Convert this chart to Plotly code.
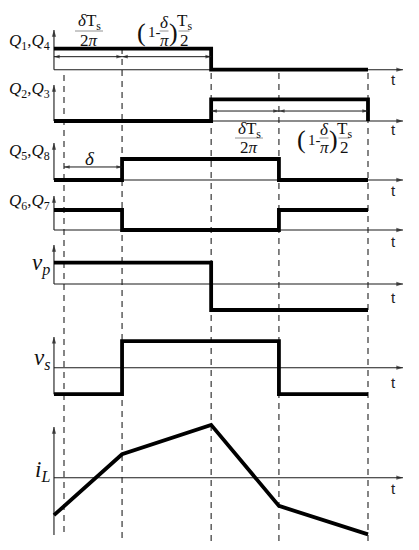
import plotly.graph_objects as go

W, H = 419, 550

# ---------------- data (time in units of Ts) ----------------
T_START = -0.033
T_DELTA = 0.191
T_HALF = 0.484
T_3 = 0.707
T_END = 1.0
T_AXIS_END = 1.115

time_q14 = [T_START, T_HALF, T_HALF, T_END]
q14 = [1, 1, 0, 0]
time_q23 = [T_START, T_HALF, T_HALF, T_END, T_END]
q23 = [0, 0, 1, 1, 0]
time_q58 = [T_START, T_DELTA, T_DELTA, T_3, T_3, T_END]
q58 = [0, 0, 1, 1, 0, 0]
time_q67 = [T_START, T_DELTA, T_DELTA, T_3, T_3, T_END]
q67 = [1, 1, 0, 0, 1, 1]
time_vp = [T_START, T_HALF, T_HALF, T_END]
vp = [1, 1, -1.22, -1.22]
time_vs = [T_START, T_DELTA, T_DELTA, T_3, T_3, T_END]
vs = [-1, -1, 1, 1, -1, -1]
time_il = [T_START, T_DELTA, T_HALF, T_3, T_END]
il = [-1.25, 0.78, 1.76, -0.94, -1.89]

dash_times = [0.0, T_DELTA, T_HALF, T_3, T_END]

labels = ["<i>Q</i><sub>1</sub>,<i>Q</i><sub>4</sub>",
          "<i>Q</i><sub>2</sub>,<i>Q</i><sub>3</sub>",
          "<i>Q</i><sub>5</sub>,<i>Q</i><sub>8</sub>",
          "<i>Q</i><sub>6</sub>,<i>Q</i><sub>7</sub>",
          "<i>v</i><sub><i>p</i></sub>",
          "<i>v</i><sub><i>s</i></sub>",
          "<i>i</i><sub><i>L</i></sub>"]

# ---------------- layout of rows (pixel positions) ----------------
rows = [
    dict(x=time_q14, y=q14, y0=69.7, s=21.0, top=1.89, bot=0, ly=42, lsize=17, ty=79),
    dict(x=time_q23, y=q23, y0=121.0, s=21.7, top=1.66, bot=0, ly=90, lsize=17, ty=129),
    dict(x=time_q58, y=q58, y0=180.0, s=21.0, top=1.76, bot=0, ly=152, lsize=17, ty=190),
    dict(x=time_q67, y=q67, y0=230.0, s=20.0, top=1.70, bot=0, ly=202, lsize=17, ty=242),
    dict(x=time_vp, y=vp, y0=284.0, s=21.3, top=1.83, bot=0, ly=264, lsize=23, ty=297),
    dict(x=time_vs, y=vs, y0=367.7, s=26.5, top=1.16, bot=-1, ly=359, lsize=23, ty=382),
    dict(x=time_il, y=il, y0=477.7, s=30.0, top=1.69, bot=-1.91, ly=471, lsize=23, ty=488),
]

X0_PX, PX_PER_T = 64.0, 304.0
INK = "#1a1a1a"


def px(x):
    return x / W


def py(y):
    return 1 - y / H


def tx(xpix):
    return (xpix - X0_PX) / PX_PER_T


fig = go.Figure()
annotations = []
shapes = []
layout = dict(
    width=W, height=H, margin=dict(l=0, r=0, t=0, b=0),
    paper_bgcolor="white", plot_bgcolor="white", showlegend=False,
    xaxis=dict(range=[tx(0), tx(W)], visible=False, domain=[0, 1], fixedrange=True),
)


def arrow_line(xs, ys, yname, sizes, angles, width=1.1):
    fig.add_trace(go.Scatter(x=xs, y=ys, mode="lines+markers", yaxis=yname, xaxis="x",
                             line=dict(color=INK, width=width),
                             marker=dict(symbol="arrow", size=sizes, angle=angles, color=INK,
                                         line=dict(width=0)),
                             hoverinfo="skip"))


for k, r in enumerate(rows, start=1):
    yname = "y" if k == 1 else f"y{k}"
    key = "yaxis" if k == 1 else f"yaxis{k}"
    ax = dict(range=[-(H - r["y0"]) / r["s"], r["y0"] / r["s"]], visible=False,
              domain=[0, 1], fixedrange=True)
    if k > 1:
        ax["overlaying"] = "y"
    layout[key] = ax
    # horizontal & vertical axes with arrowheads
    arrow_line([T_START, T_AXIS_END], [0, 0], yname, [0, 7], [0, 90])
    arrow_line([T_START, T_START], [r["bot"], r["top"]], yname, [0, 7], [0, 0])
    # signal
    fig.add_trace(go.Scatter(x=r["x"], y=r["y"], mode="lines", yaxis=yname, xaxis="x",
                             line=dict(color="black", width=3.8), hoverinfo="skip"))
    # row label
    annotations.append(dict(x=px(51), y=py(r["ly"]), xref="paper", yref="paper",
                            text=labels[k - 1], showarrow=False, xanchor="right", yanchor="middle",
                            borderpad=0,
                            font=dict(family="Liberation Serif", size=r["lsize"], color="#111")))
    # "t" label
    annotations.append(dict(x=px(393), y=py(r["ty"]), xref="paper", yref="paper", text="t",
                            showarrow=False, xanchor="center", yanchor="middle", borderpad=0,
                            font=dict(family="Liberation Sans", size=15, color="#222")))

# dashed guide lines
dash_tops = [72, 48, 60, 72, 72]
dash_bots = [532, 538, 541, 541, 541]
for t, y_top, y_bot in zip(dash_times, dash_tops, dash_bots):
    shapes.append(dict(type="line", xref="x", yref="paper", x0=t, x1=t,
                       y0=py(y_bot), y1=py(y_top), layer="below",
                       line=dict(color="#222", width=1.1, dash="6px,5px")))

# dimension arrows (row 1, row 2, row 3)
arrow_line([T_START, T_DELTA], [0.62, 0.62], "y", [6, 6], [-90, 90], 1.0)
arrow_line([T_DELTA, T_HALF], [0.62, 0.62], "y", [6, 6], [-90, 90], 1.0)
arrow_line([T_HALF, T_3], [0.46, 0.46], "y2", [6, 6], [-90, 90], 1.0)
arrow_line([T_3, T_END], [0.46, 0.46], "y2", [6, 6], [-90, 90], 1.0)
arrow_line([0.0, T_DELTA], [0.62, 0.62], "y3", [6, 6], [-90, 90], 1.0)
annotations.append(dict(x=px(90), y=py(158), xref="paper", yref="paper", text="<i>δ</i>",
                        showarrow=False, xanchor="center", yanchor="middle", borderpad=0,
                        font=dict(family="Liberation Serif", size=19, color="#111")))

FONT = dict(family="Liberation Serif", size=16, color="#111")


def txt(x, y, s, size=16, xanchor="center", yanchor="middle"):
    annotations.append(dict(x=px(x), y=py(y), xref="paper", yref="paper", text=s,
                            showarrow=False, xanchor=xanchor, yanchor=yanchor, borderpad=0,
                            font=dict(FONT, size=size)))


def frac(xc, ybar, num, den, w, size=17):
    txt(xc, ybar - 8.5, num, size)
    txt(xc, ybar + 9.0, den, size)
    shapes.append(dict(type="line", xref="paper", yref="paper", x0=px(xc - w / 2), x1=px(xc + w / 2),
                       y0=py(ybar), y1=py(ybar), line=dict(color="#777", width=0.8)))


def group(dx, ybar):
    frac(89 + dx, ybar, "<i>δ</i>T<sub>s</sub>", "2<i>π</i>", 28)
    txt(147.3 + dx, ybar + 1.5, "(", 26, xanchor="right")
    txt(147.3 + dx, ybar + 1.5, "1-", 15, xanchor="left")
    frac(164 + dx, ybar, "<i>δ</i>", "<i>π</i>", 9)
    txt(168.3 + dx, ybar + 1.5, ")", 26, xanchor="left")
    frac(184 + dx, ybar, "T<sub>s</sub>", "2", 11)


group(0, 31)
group(160, 138)

layout["annotations"] = annotations
layout["shapes"] = shapes
fig.update_layout(**layout)
fig.write_html("out.html", config={"displayModeBar": False},
               post_script="document.body.style.margin='0';document.body.style.padding='0';")
